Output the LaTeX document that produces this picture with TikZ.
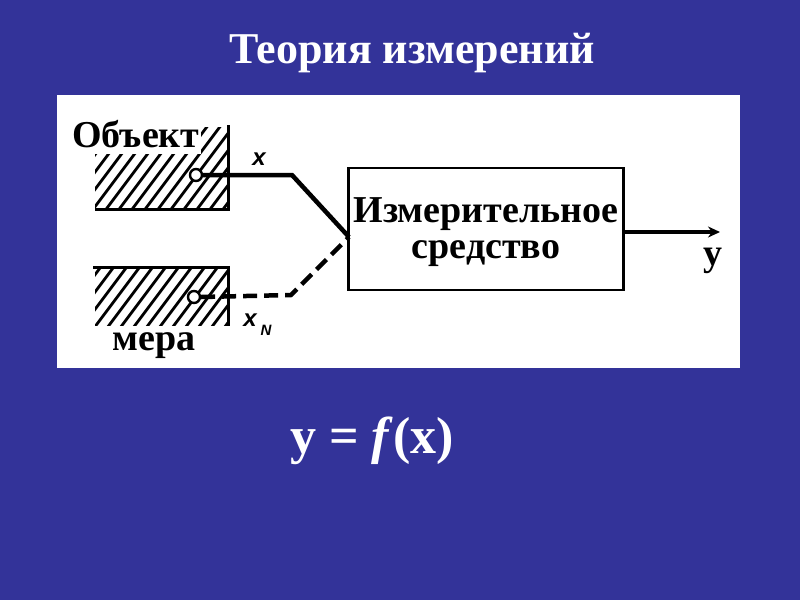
\documentclass[tikz,border=0pt]{standalone}
\usepackage{fontspec}
\usetikzlibrary{arrows.meta}
\setmainfont{Liberation Serif}
\newfontfamily\handfont{Liberation Sans}
\definecolor{slideblue}{RGB}{51,51,153}
\begin{document}
\begin{tikzpicture}[x=1pt,y=-1pt,
  wire/.style={line width=4.5pt, line join=miter},
  border/.style={line width=3pt},
  hatch/.style={line width=2.8pt},
  lbl/.style={font=\fontsize{38}{40}\selectfont\bfseries, text=black, inner sep=0pt},
  hand/.style={font=\handfont\bfseries\itshape\fontsize{24}{24}\selectfont, inner sep=0pt},
  port/.style={circle, draw=black, fill=white, line width=2.4pt, minimum size=12pt, inner sep=0pt}]
\useasboundingbox (0,0) rectangle (800,600);
\fill[slideblue] (0,0) rectangle (800,600);
\fill[white] (57,95) rectangle (740,368);
% title
\node[text=white, font=\fontsize{44}{46}\selectfont\bfseries, anchor=base] (title) at (412,63) {Теория измерений};
% upper block hatching
\begin{scope}
  \clip (95,127) rectangle (228,208);
  \foreach \i in {0,13,...,260} \draw[hatch] (\i+20,220) -- ++(75,-100);
\end{scope}
\node[lbl, fill=white, inner xsep=2pt, inner ysep=7pt, anchor=base west] (obj) at (70,147) {Объект};
\draw[border] (228,125) -- (228,209) -- (95,209);
% lower block hatching
\begin{scope}
  \clip (95,267) rectangle (228,325);
  \foreach \i in {0,13,...,260} \draw[hatch] (\i+20,340) -- ++(75,-100);
\end{scope}
\draw[border] (93,267) -- (228,267) -- (228,326);
\node[lbl, anchor=base] (mera) at (154,350) {мера};
% box
\node[draw=black, line width=2.5pt, minimum width=275pt, minimum height=122pt, inner sep=0pt, align=center,
  font=\fontsize{38}{36}\selectfont\bfseries] (box) at (486,229) {};
\node[font=\fontsize{38}{36}\selectfont\bfseries, align=center, inner sep=0pt, anchor=base] (boxt1) at (486,222) {Измерительное};
\node[font=\fontsize{38}{36}\selectfont\bfseries, align=center, inner sep=0pt, anchor=base] (boxt2) at (486,258) {средство};
\coordinate (in) at (349,237);
% ports
\node[port] (p1) at (196,175) {};
\node[port] (p2) at (194,297) {};
\coordinate (c1) at (292,175);
\coordinate (c2) at (291,295);
\draw[wire] (p1.east) -- (c1) -- (in);
\draw[wire, dash pattern=on 14pt off 7pt] (p2.east) -- (c2) -- (in);
\node[hand] (xl) at (259,159) {x};
\node[hand] (xn) at (250,320) {x};
\node[hand, font=\handfont\bfseries\itshape\fontsize{15}{15}\selectfont] (xnn) at (266,330) {N};
% output
\coordinate (out) at (720,232);
\draw[wire, -{Stealth[length=12pt,width=11pt]}] (box.east |- out) -- (out);
\node[lbl, anchor=base] (yl) at (713,265) {у};
% formula
\node[text=white, anchor=base, font=\fontsize{52}{54}\selectfont\bfseries] (formula) at (372,453) {y = \textit{f}(x)};
\end{tikzpicture}
\end{document}
